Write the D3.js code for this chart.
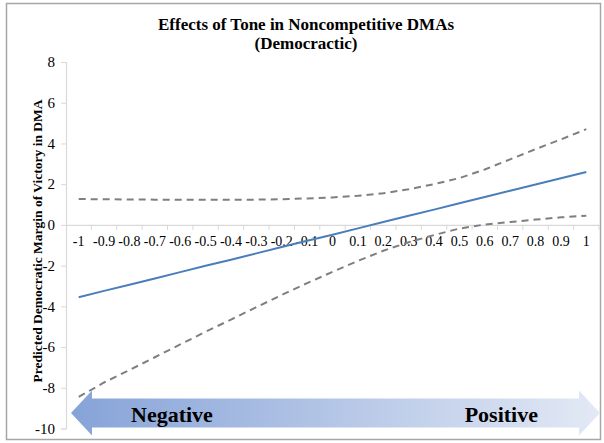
<!DOCTYPE html>
<html><head><meta charset="utf-8">
<script src="https://cdn.jsdelivr.net/npm/d3@7"></script>
<style>body{margin:0;background:#fff}svg{display:block}</style>
</head><body>
<script>
const categories = ["-1","-0.9","-0.8","-0.7","-0.6","-0.5","-0.4","-0.3","-0.2","-0.1","0","0.1","0.2","0.3","0.4","0.5","0.6","0.7","0.8","0.9","1"];
const predicted = [-3.55,-3.24,-2.94,-2.63,-2.32,-2.01,-1.71,-1.40,-1.09,-0.78,-0.48,-0.17,0.14,0.45,0.75,1.06,1.37,1.68,1.98,2.29,2.60];
const upperBound = [1.27,1.26,1.25,1.24,1.23,1.23,1.23,1.24,1.26,1.30,1.35,1.43,1.55,1.75,2.00,2.30,2.72,3.22,3.72,4.20,4.70];
const lowerBound = [-8.45,-7.74,-7.13,-6.50,-5.87,-5.25,-4.65,-4.04,-3.44,-2.86,-2.31,-1.77,-1.27,-0.85,-0.50,-0.18,0.02,0.14,0.26,0.37,0.45];
const yTicks = [-10,-8,-6,-4,-2,0,2,4,6,8];
const yTickLabels = ["-10","-8","-6","-4","-2","0","2","4","6","8"];
const titleLines = ["Effects of Tone in Noncompetitive DMAs","(Democractic)"];
const yLabel = "Predicted Democratic Margin of Victory in DMA";
const arrowLabels = ["Negative","Positive"];

const W=604,H=443;
const svg=d3.select("body").append("svg").attr("width",W).attr("height",H);
const serif="Liberation Serif, Times New Roman, serif";

// frame
svg.append("rect").attr("x",6.5).attr("y",3.5).attr("width",594).attr("height",436)
  .attr("fill","#fff").attr("stroke","#a6a6a6").attr("stroke-width",1.5);

const x=d3.scaleBand().domain(categories).range([66,599]);
const y=d3.scaleLinear().domain([-10,8]).range([428.5,62]);
const cx=c=>x(c)+x.bandwidth()/2;

// title
svg.append("g").selectAll("text").data(titleLines).join("text")
  .attr("x",306).attr("y",(d,i)=>30+i*19).attr("text-anchor","middle")
  .style("font-family",serif).attr("font-weight","bold").attr("font-size",17)
  .attr("fill","#000").text(d=>d);

// y axis
const yAx=svg.append("g").attr("transform","translate(66,0)")
  .call(d3.axisLeft(y).tickValues(yTicks).tickSize(5).tickPadding(6)
    .tickFormat((d,i)=>yTickLabels[i]));
yAx.select(".domain").attr("stroke","#d9d9d9").attr("stroke-width",1.2);
yAx.selectAll(".tick line").attr("stroke","#d9d9d9");
yAx.selectAll(".tick text").style("font-family",serif).attr("font-size",15).attr("fill","#000");

// x axis at y=0
const y0=y(0);
const xAx=svg.append("g").attr("transform",`translate(0,${y0})`)
  .call(d3.axisBottom(x).tickSize(0).tickPadding(11));
xAx.select(".domain").attr("stroke","#d9d9d9").attr("stroke-width",1.2);
xAx.selectAll(".tick text").style("font-family",serif).attr("font-size",14).attr("fill","#000");
// boundary ticks
svg.append("g").selectAll("line").data(categories.slice(1).concat(["__end"])).join("line")
  .attr("x1",d=>d==="__end"?x.range()[1]:x(d)).attr("x2",d=>d==="__end"?x.range()[1]:x(d))
  .attr("y1",y0).attr("y2",y0+5).attr("stroke","#d9d9d9");

// y label
svg.append("text").attr("transform",`translate(42,${(62+428)/2 - 4}) rotate(-90)`)
  .attr("text-anchor","middle").style("font-family",serif).attr("font-weight","bold")
  .attr("font-size",13.5).text(yLabel);

// lines
const line=arr=>d3.line().x((d,i)=>cx(categories[i])).y(d=>y(d))(arr);
svg.append("path").attr("d",line(upperBound)).attr("fill","none").attr("stroke","#7f7f7f")
  .attr("stroke-width",2).attr("stroke-dasharray","7,5");
svg.append("path").attr("d",line(lowerBound)).attr("fill","none").attr("stroke","#7f7f7f")
  .attr("stroke-width",2).attr("stroke-dasharray","7,5");
svg.append("path").attr("d",line(predicted)).attr("fill","none").attr("stroke","#4a7ebb")
  .attr("stroke-width",2);

// arrow
const defs=svg.append("defs");
const g=defs.append("linearGradient").attr("id","ag").attr("x1","0").attr("x2","1").attr("y1","0").attr("y2","0");
g.append("stop").attr("offset","0").attr("stop-color","#86a3d8");
g.append("stop").attr("offset","1").attr("stop-color","#e3e9f5");
const cy=413, sh=14.5, hh=22.5, xl=71, xr=600, hl=21;
svg.append("path").attr("d",
  `M${xl},${cy} L${xl+hl},${cy-hh} L${xl+hl},${cy-sh} L${xr-hl},${cy-sh} L${xr-hl},${cy-hh} L${xr},${cy} L${xr-hl},${cy+hh} L${xr-hl},${cy+sh} L${xl+hl},${cy+sh} L${xl+hl},${cy+hh} Z`)
  .attr("fill","url(#ag)");
svg.append("g").selectAll("text").data(arrowLabels).join("text")
  .attr("x",(d,i)=>i===0?131:538).attr("y",422).attr("text-anchor",(d,i)=>i===0?"start":"end")
  .style("font-family",serif).attr("font-weight","bold").attr("font-size",22).attr("fill","#000").text(d=>d);
</script>
</body></html>
